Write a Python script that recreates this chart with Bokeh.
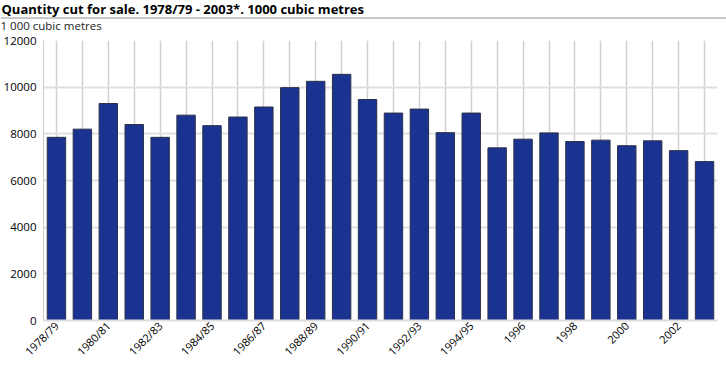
from bokeh.plotting import figure
from bokeh.layouts import column
from bokeh.models import Range1d, FixedTicker, ColumnDataSource
from bokeh.core.properties import value
from bokeh.embed import file_html
from bokeh.resources import INLINE

title_text = "Quantity cut for sale. 1978/79 - 2003*. 1000 cubic metres"
unit_text = "1 000 cubic metres"
categories = ["1978/79", "1979/80", "1980/81", "1981/82", "1982/83", "1983/84",
              "1984/85", "1985/86", "1986/87", "1987/88", "1988/89", "1989/90",
              "1990/91", "1991/92", "1992/93", "1993/94", "1994/95", "1995",
              "1996", "1997", "1998", "1999", "2000", "2001", "2002", "2003"]
values = [7850, 8200, 9300, 8400, 7850, 8800, 8350, 8720, 9150, 9980, 10250, 10550,
          9470, 8890, 9060, 8050, 8890, 7400, 7770, 8040, 7670, 7730, 7490, 7700,
          7280, 6810]
y_ticks = [0, 2000, 4000, 6000, 8000, 10000, 12000]

FONT = "Open Sans"
W = 726

# header with title, rule and unit text
hdr = figure(width=W, height=33, x_range=Range1d(0, W), y_range=Range1d(33, 0),
             output_backend="svg", toolbar_location=None, min_border=0)
hdr.frame_align = False
hdr.axis.visible = False
hdr.grid.visible = False
hdr.outline_line_color = None
hdr.text(x=[1], y=[8.5], text=[title_text], text_font=value(FONT), text_font_style="bold",
         text_font_size="13px", text_baseline="middle", text_color="#000000")
hdr.segment(x0=[0], y0=[17.5], x1=[W], y1=[17.5], line_color="#c8c8c8", line_width=2)
hdr.text(x=[0], y=[25.2], text=[unit_text], text_font=value(FONT),
         text_font_size="11.5px", text_baseline="middle", text_color="#222222")

# main chart
idx = list(range(len(categories)))
src = ColumnDataSource(dict(x=idx, top=values, cat=categories))
p = figure(width=W, height=333, x_range=Range1d(-0.5, len(categories) - 0.5),
           y_range=Range1d(0, 12000), output_backend="svg", toolbar_location=None,
           min_border_left=43, min_border_right=9, min_border_top=7, min_border_bottom=43)
p.frame_align = False
p.outline_line_color = None
p.vbar(x="x", top="top", width=0.71, source=src, fill_color="#1a3391",
       line_color="#2b2f4a", line_width=1)

p.yaxis.ticker = FixedTicker(ticks=y_ticks)
p.ygrid.ticker = FixedTicker(ticks=y_ticks)
p.xaxis.ticker = FixedTicker(ticks=idx[::2])
p.xaxis.major_label_overrides = {i: categories[i] for i in idx}
p.xaxis.major_label_orientation = 0.785398
p.xgrid.ticker = FixedTicker(ticks=idx)

for ax in (p.xaxis[0], p.yaxis[0]):
    ax.major_tick_line_color = None
    ax.minor_tick_line_color = None
    ax.major_tick_out = 0
    ax.major_tick_in = 0
    ax.major_label_text_font = FONT
    ax.major_label_text_color = "#000000"
p.yaxis.major_label_text_font_size = "11.5px"
p.yaxis.major_label_standoff = 7
p.xaxis.major_label_text_font_size = "11px"
p.xaxis.major_label_standoff = 3
p.yaxis.axis_line_color = "#cccccc"
p.xaxis.axis_line_color = "#dddddd"
p.xaxis.axis_line_width = 2
p.ygrid.grid_line_color = "#e0e0e0"
p.ygrid.grid_line_width = 2
p.xgrid.grid_line_color = "#d0d0d0"
p.xgrid.grid_line_width = 1.5

ftr = figure(width=W, height=1, output_backend="svg", toolbar_location=None, min_border=0,
             background_fill_color="#c8c8c8", border_fill_color="#c8c8c8")
ftr.frame_align = False
ftr.axis.visible = False
ftr.grid.visible = False
ftr.outline_line_color = None

layout = column(hdr, p, ftr, spacing=0)

open("out.html", "w").write(file_html(layout, INLINE))
